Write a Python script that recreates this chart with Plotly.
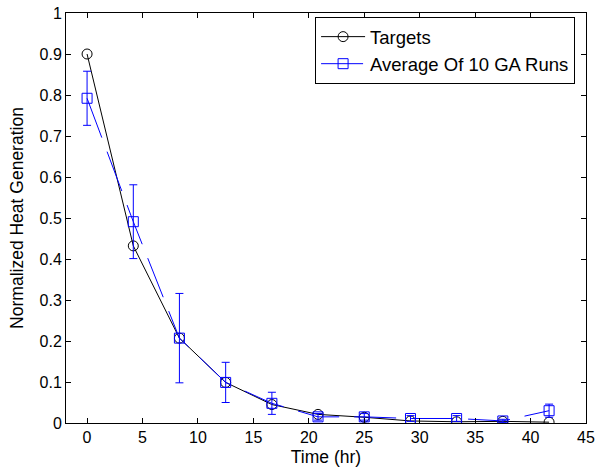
import plotly.graph_objects as go

# Sampling times (hr)
time_hr = [0, 4.17, 8.33, 12.5, 16.67, 20.83, 25, 29.17, 33.33, 37.5, 41.67]

# Target normalized heat generation
targets = [0.900, 0.432, 0.207, 0.099, 0.045, 0.021, 0.014, 0.005, 0.003, 0.004, 0.002]

# Mean of 10 GA runs and its error (+/-)
ga_mean = [0.792, 0.491, 0.207, 0.099, 0.048, 0.015, 0.015, 0.011, 0.011, 0.005, 0.030]
ga_err = [0.066, 0.090, 0.109, 0.049, 0.027, 0.008, 0.008, 0.007, 0.007, 0.004, 0.016]

x_ticks = [0, 5, 10, 15, 20, 25, 30, 35, 40, 45]
y_ticks = [0, 0.1, 0.2, 0.3, 0.4, 0.5, 0.6, 0.7, 0.8, 0.9, 1]
y_tick_text = ["0", "0.1", "0.2", "0.3", "0.4", "0.5", "0.6", "0.7", "0.8", "0.9", "1"]

FONT = "Liberation Sans, Arial, sans-serif"

fig = go.Figure()

fig.add_trace(go.Scatter(
    x=time_hr, y=targets, name="Targets",
    mode="lines+markers",
    line=dict(color="black", width=1),
    marker=dict(symbol="circle-open", size=10, color="black", line=dict(width=1)),
))

fig.add_trace(go.Scatter(
    x=time_hr, y=ga_mean, name="Average Of 10 GA Runs",
    mode="lines+markers",
    line=dict(color="#0000ff", width=1, dash="42px,15px"),
    marker=dict(symbol="square-open", size=10, color="#0000ff", line=dict(width=1)),
    error_y=dict(type="data", array=ga_err, visible=True,
                 color="#0000ff", thickness=1, width=4),
))

axis_common = dict(
    showline=True, linecolor="black", linewidth=1, mirror="ticks",
    ticks="inside", ticklen=5, tickwidth=1, tickcolor="black",
    showgrid=False, zeroline=False,
    tickfont=dict(family=FONT, size=16, color="black"),
)

fig.update_xaxes(
    range=[-1.9, 45], tickvals=x_ticks,
    title=dict(text="Time (hr)", font=dict(family=FONT, size=17.5, color="black"), standoff=5),
    **axis_common,
)
fig.update_yaxes(
    range=[0, 1], tickvals=y_ticks, ticktext=y_tick_text,
    title=dict(text="Normalized Heat Generation", font=dict(family=FONT, size=17.5, color="black"), standoff=11),
    **axis_common,
)

fig.update_layout(
    width=596, height=470,
    margin=dict(l=66, r=10, t=13, b=47, autoexpand=False),
    paper_bgcolor="white", plot_bgcolor="white",
    font=dict(family=FONT, color="black"),
    showlegend=True,
    legend=dict(
        x=0.979, xanchor="right", y=0.99, yanchor="top",
        bgcolor="white", bordercolor="black", borderwidth=1,
        font=dict(family=FONT, size=18.5, color="black"),
        itemwidth=44, tracegroupgap=0,
    ),
)

fig.write_html("out.html")
